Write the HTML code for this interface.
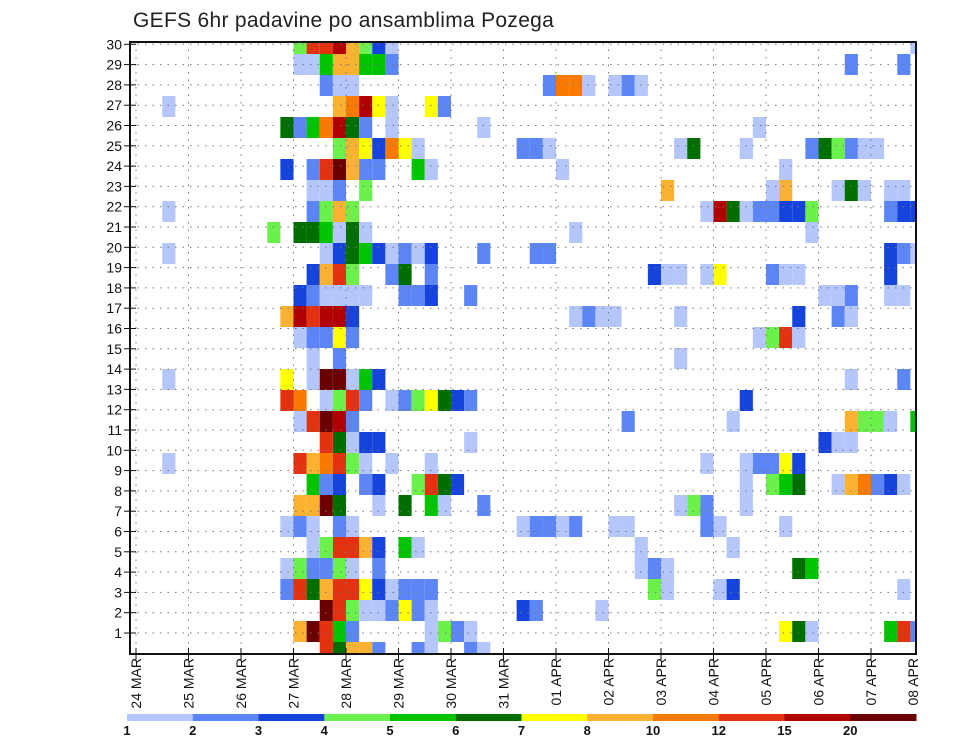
<!DOCTYPE html>
<html><head><meta charset="utf-8"><title>GEFS 6hr padavine</title>
<style>
html,body{margin:0;padding:0;background:#fff;}
svg{display:block;font-family:"Liberation Sans",sans-serif;}
</style></head>
<body>
<svg id="chart" width="960" height="742" viewBox="0 0 960 742" xmlns="http://www.w3.org/2000/svg">
<text x="133" y="27" font-size="21" fill="#222" letter-spacing="0.3">GEFS 6hr padavine po ansamblima Pozega</text>
<g id="cells"></g>
<g id="grid"></g>
<g id="axes"></g>
<g id="cbar"></g>
</svg>
<script>
const dayLabels = ["24 MAR","25 MAR","26 MAR","27 MAR","28 MAR","29 MAR","30 MAR","31 MAR","01 APR","02 APR","03 APR","04 APR","05 APR","06 APR","07 APR","08 APR"];
const memberLabels = [1,2,3,4,5,6,7,8,9,10,11,12,13,14,15,16,17,18,19,20,21,22,23,24,25,26,27,28,29,30];
const levelLabels = ["1","2","3","4","5","6","7","8","10","12","15","20"];
const levelColors = ["#b4c6fa","#5c85f5","#1543dc","#6cf04c","#00c400","#006f00","#ffff00","#fbb232","#f87a00","#e23210","#b00000","#6a0000"];
// each band (top to bottom): list of [6-hour step index, precip level index 1..12]
const members = [
 [[12,4],[13,10],[14,10],[15,11],[16,8],[17,4],[18,3],[19,1],[59,1]],
 [[12,1],[13,1],[14,5],[15,8],[16,8],[17,5],[18,5],[19,2],[54,2],[58,2]],
 [[14,2],[15,1],[16,1],[31,2],[32,9],[33,9],[34,1],[36,1],[37,2],[38,1]],
 [[2,1],[15,8],[16,9],[17,11],[18,7],[19,1],[22,7],[23,2]],
 [[11,6],[12,2],[13,5],[14,9],[15,11],[16,6],[17,2],[19,1],[26,1],[47,1]],
 [[15,4],[16,8],[17,7],[18,3],[19,9],[20,7],[21,1],[29,2],[30,2],[31,1],[41,1],[42,6],[46,1],[51,2],[52,6],[53,4],[54,2],[55,1],[56,1]],
 [[11,3],[13,2],[14,10],[15,12],[16,8],[17,2],[18,2],[21,5],[22,1],[32,1],[49,1]],
 [[13,1],[14,1],[15,2],[17,4],[40,8],[48,1],[49,8],[53,1],[54,6],[55,1],[57,1],[58,1]],
 [[2,1],[13,2],[14,4],[15,8],[16,4],[43,1],[44,11],[45,6],[46,1],[47,2],[48,2],[49,3],[50,3],[51,4],[57,2],[58,3],[59,3]],
 [[10,4],[12,6],[13,6],[14,5],[15,1],[16,6],[17,1],[33,1],[51,1]],
 [[2,1],[14,1],[15,3],[16,6],[17,5],[18,3],[19,1],[20,2],[21,1],[22,3],[26,2],[30,2],[31,2],[57,3],[58,2],[59,1]],
 [[13,3],[14,8],[15,10],[16,4],[19,2],[20,6],[22,2],[39,3],[40,1],[41,1],[43,1],[44,7],[48,2],[49,1],[50,1],[57,3]],
 [[12,3],[13,2],[14,1],[15,1],[16,1],[17,1],[20,2],[21,2],[22,3],[25,2],[52,1],[53,1],[54,2],[57,1],[58,1]],
 [[11,8],[12,11],[13,10],[14,11],[15,11],[16,3],[33,1],[34,2],[35,1],[36,1],[41,1],[50,3],[53,2],[54,1]],
 [[12,1],[13,2],[14,2],[15,7],[16,2],[47,1],[48,4],[49,10],[50,1]],
 [[13,1],[15,2],[41,1]],
 [[2,1],[11,7],[13,1],[14,12],[15,12],[16,1],[17,5],[18,3],[54,1],[58,2]],
 [[11,10],[12,9],[14,1],[15,4],[16,10],[17,2],[19,1],[20,2],[21,4],[22,7],[23,6],[24,3],[25,2],[46,3]],
 [[12,1],[13,10],[14,12],[15,11],[16,2],[37,2],[45,1],[54,8],[55,4],[56,4],[57,1],[59,5]],
 [[14,10],[15,6],[16,1],[17,3],[18,3],[25,1],[52,3],[53,1],[54,1]],
 [[2,1],[12,10],[13,8],[14,9],[15,10],[16,4],[17,1],[19,1],[22,1],[43,1],[46,1],[47,2],[48,2],[49,7],[50,3]],
 [[13,5],[14,2],[15,3],[17,2],[18,3],[21,4],[22,10],[23,6],[24,3],[46,1],[48,4],[49,5],[50,6],[53,1],[54,8],[55,9],[56,2],[57,3],[58,1]],
 [[12,8],[13,8],[14,12],[15,6],[18,1],[20,6],[22,5],[23,1],[26,2],[41,1],[42,4],[43,2],[46,1]],
 [[11,1],[12,2],[13,1],[15,2],[16,1],[29,1],[30,2],[31,2],[32,1],[33,2],[36,1],[37,1],[43,2],[44,1],[49,1]],
 [[13,1],[14,4],[15,10],[16,10],[17,8],[18,3],[20,5],[21,1],[38,1],[45,1]],
 [[11,1],[12,4],[13,2],[14,2],[15,4],[16,1],[18,2],[38,1],[39,2],[40,1],[50,6],[51,5]],
 [[11,2],[12,10],[13,6],[14,8],[15,10],[16,10],[17,7],[18,3],[19,1],[20,2],[21,2],[22,2],[39,4],[40,1],[44,1],[45,3],[58,1]],
 [[14,12],[15,10],[16,4],[17,1],[18,1],[19,2],[20,7],[21,2],[22,1],[29,3],[30,2],[35,1]],
 [[12,8],[13,12],[14,10],[15,5],[16,2],[22,1],[23,4],[24,2],[25,1],[49,7],[50,6],[51,1],[57,5],[58,10],[59,2]],
 [[14,10],[15,6],[16,8],[17,8],[18,2],[21,2],[22,1],[25,2],[26,1]]
];

const NS="http://www.w3.org/2000/svg";
const L=130,R=916,T=42,B=654;
const X0=136, DAY=52.5, STEP=DAY/4;
function xStep(s){return X0+s*STEP;}
function xDay(d){return X0+d*DAY;}
function bandTop(k){return k===0?T:54+(k-1)*21;}
function bandBot(k){return k===members.length-1?B:54+k*21;}
function yTick(m){return 633-(m-1)*20.3;}
function mk(tag,attrs,parent){const e=document.createElementNS(NS,tag);for(const a in attrs)e.setAttribute(a,attrs[a]);parent.appendChild(e);return e;}

const cells=document.getElementById('cells');
members.forEach((band,k)=>{
  band.forEach(([s,lv])=>{
    const x1=Math.max(L,xStep(s)), x2=Math.min(R,xStep(s+1));
    const r=mk('rect',{x:x1,y:bandTop(k),width:x2-x1,height:bandBot(k)-bandTop(k),fill:levelColors[lv-1]},cells);
    
    
  });
});

const grid=document.getElementById('grid');
memberLabels.forEach(m=>{
  const g=mk('line',{x1:L,x2:R,y1:yTick(m),y2:yTick(m),stroke:'#777','stroke-width':1,'stroke-dasharray':'1.5 6'},grid);
  
  
});
dayLabels.forEach((d,i)=>{
  const x=xDay(i); if(x>R)return;
  const g=mk('line',{x1:x,x2:x,y1:T,y2:B,stroke:'#777','stroke-width':1,'stroke-dasharray':'1.5 6'},grid);
  
  
});

const axes=document.getElementById('axes');
const box=mk('rect',{x:L,y:T,width:R-L,height:B-T,fill:'none',stroke:'#111','stroke-width':2},axes);


memberLabels.forEach(m=>{
  const y=yTick(m);
  mk('line',{x1:L-6,x2:L+6,y1:y,y2:y,stroke:'#111','stroke-width':1},axes);
  const t=mk('text',{x:122,y:y+5,'font-size':14,'text-anchor':'end',fill:'#111'},axes);
  t.textContent=m;
  
  
});
dayLabels.forEach((d,i)=>{
  let x=xDay(i);
  if(x<=R) mk('line',{x1:x,x2:x,y1:B-6,y2:B+6,stroke:'#111','stroke-width':1},axes);
  if(x>R) x=913;
  const t=mk('text',{x:0,y:0,'font-size':14,'text-anchor':'end',fill:'#111',transform:'translate('+(x+5)+',658) rotate(-90)'},axes);
  t.textContent=d;
  
  
});

const cbar=document.getElementById('cbar');
const CB0=127, CBW=(916-127)/levelColors.length;
levelColors.forEach((c,i)=>{
  const r=mk('rect',{x:CB0+i*CBW,y:714,width:CBW+0.5,height:7,fill:c},cbar);
  
  
  const t=mk('text',{x:CB0+i*CBW,y:735,'font-size':13,'font-weight':'bold','text-anchor':'middle',fill:'#111'},cbar);
  t.textContent=levelLabels[i];
  
  
});
</script>
</body></html>
